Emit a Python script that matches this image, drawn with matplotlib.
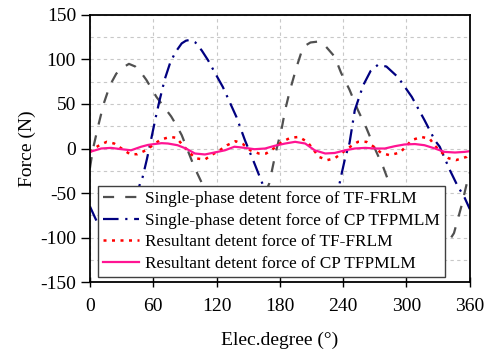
import numpy as np
import matplotlib
matplotlib.use('Agg')
import matplotlib.pyplot as plt

plt.rcParams['font.family'] = ['Liberation Serif', 'DejaVu Serif']
plt.rcParams['axes.unicode_minus'] = False

# Single-phase detent force of TF-FRLM (deg, N)
tf_single_x = [0, 3, 8, 13, 19, 25, 30, 37, 43, 48, 53.5, 58, 63, 70, 77, 82, 87, 92, 99, 107,
               115, 125, 135, 143, 150, 158, 164, 170, 176, 182, 185, 189.5, 196, 202, 209, 216,
               221, 232, 238, 246, 254, 262, 270, 278, 284, 295, 305, 315, 323, 330, 338, 345,
               352, 358, 360]
tf_single_y = [-22, 0, 26, 50, 71, 84, 90, 95, 92, 86, 77, 68, 58, 47, 36, 26, 15, 0, -21, -41,
               -70, -100, -115, -110, -95, -75, -57, -39, -5, 24, 43, 65, 92, 114, 119, 120,
               118, 103, 85, 66, 43, 23, 0, -21, -40, -70, -95, -115, -122, -120, -108, -95,
               -65, -35, -27]

# Single-phase detent force of CP TFPMLM
cp_single_x = [0, 5, 12, 20, 28, 35, 42, 47.6, 50, 54, 58.5, 62, 66, 71, 76, 81, 87, 91, 95, 100,
               106, 112, 118, 126, 139, 147, 156, 164, 175, 185, 195, 205, 215, 225, 232, 238.6,
               242, 246, 251, 259, 266, 273, 281, 292, 305, 317, 327, 331.5, 341, 348, 355, 360]
cp_single_y = [-65, -78, -95, -105, -100, -85, -62, -39, -32, -12, 13, 33, 54, 78, 96, 108, 118,
               121, 122, 119, 110, 99, 86, 69, 35, 9, -17, -41, -75, -105, -125, -130, -120, -95,
               -65, -28, -10, 6, 43, 71, 87, 94, 92, 80, 58, 32, 9, 2, -24, -41, -55, -68]

# Resultant detent force of TF-FRLM
tf_res_x = [0, 4, 9, 16, 23, 30, 38, 45, 53, 60, 67, 76, 82, 88, 94, 100, 109, 115, 123, 130,
            138, 145, 152, 160, 167, 175, 182, 190, 198, 206, 211, 217, 225, 232, 239, 245, 254,
            262, 269, 276, 284, 294, 300, 305, 314, 322, 327, 333, 340, 347, 357, 360]
tf_res_y = [-4, 0, 3.7, 7.5, 5.6, 0, -6.4, -6.4, -2, 4, 10, 13, 12, 3.7, -4, -11, -12.4, -7.5,
            -2, 3.7, 8.2, 5, -2, -5.6, -5.6, 0.7, 7.5, 12, 13, 7.5, 0, -9.4, -13, -11, -5, 0.7,
            7.5, 7.5, 2, -5, -7.5, -4.5, 3, 9.4, 13, 11, 3, -4, -11, -13, -9.4, -6]

# Resultant detent force of CP TFPMLM
cp_res_x = [0, 5, 10.7, 20, 30, 39, 48.6, 55, 61, 68, 74, 83, 91, 99.5, 109, 118, 128, 137, 147,
            156, 166, 175, 185, 194.5, 204, 213, 223, 232, 242, 251, 261, 270, 279.5, 289, 298,
            308, 317, 327, 336, 346, 355, 360]
cp_res_y = [-3.8, -2, 0, 0.7, -0.8, -2, 2, 4, 5, 6, 5.6, 3.7, 0, -5.6, -6.7, -4.5, -2, 2, 0.7,
            -0.8, 0, 3, 5.6, 7.5, 5.6, -2, -5.6, -5, -2, 0, 0.7, 0, 0, 2.6, 4.5, 5, 3.7, 0, -3.8,
            -4.5, -3.8, -3]

labels = ['Single-phase detent force of TF-FRLM',
          'Single-phase detent force of CP TFPMLM',
          'Resultant detent force of TF-FRLM',
          'Resultant detent force of CP TFPMLM']

fig = plt.figure(figsize=(4.94, 3.54), dpi=100)
ax = fig.add_axes([0.182, 0.203, 0.769, 0.755])

ax.plot(tf_single_x, tf_single_y, color='#505050', lw=1.6, dashes=(5, 5), label=labels[0])
ax.plot(cp_single_x, cp_single_y, color='#000080', lw=1.6, dashes=(7, 3, 1, 3), label=labels[1])
ax.plot(tf_res_x, tf_res_y, color='#ff0000', lw=1.8, dashes=(1.2, 2.2), label=labels[2])
ax.plot(cp_res_x, cp_res_y, color='#ff1493', lw=1.6, label=labels[3])

ax.set_xlim(0, 360)
ax.set_ylim(-150, 150)
ax.set_xticks(np.arange(0, 361, 60))
ax.set_yticks(np.arange(-150, 151, 50))
ax.set_yticks(np.arange(-150, 151, 25), minor=True)
ax.tick_params(axis='y', which='minor', length=0)
ax.tick_params(axis='y', which='major', direction='out', length=6.5, width=1, labelsize=14)
ax.tick_params(axis='x', which='major', direction='inout', length=7, width=1, labelsize=14, pad=8)
ax.grid(True, which='both', color='#c8c8c8', ls=(0, (3, 3)), lw=0.8)
ax.set_axisbelow(True)
for s in ax.spines.values():
    s.set_linewidth(1.3)

ax.set_xlabel('Elec.degree (°)', fontsize=14, labelpad=12)
ax.set_ylabel('Force (N)', fontsize=14, labelpad=3)

leg = ax.legend(loc='lower left', bbox_to_anchor=(0.021, 0.019), borderaxespad=0,
                fontsize=12.4, handlelength=2.1, handletextpad=0.35, labelspacing=0.32,
                borderpad=0.3, fancybox=False, framealpha=1, edgecolor='#404040')
leg.get_frame().set_linewidth(1.0)

fig.savefig('out.png', dpi=100)
